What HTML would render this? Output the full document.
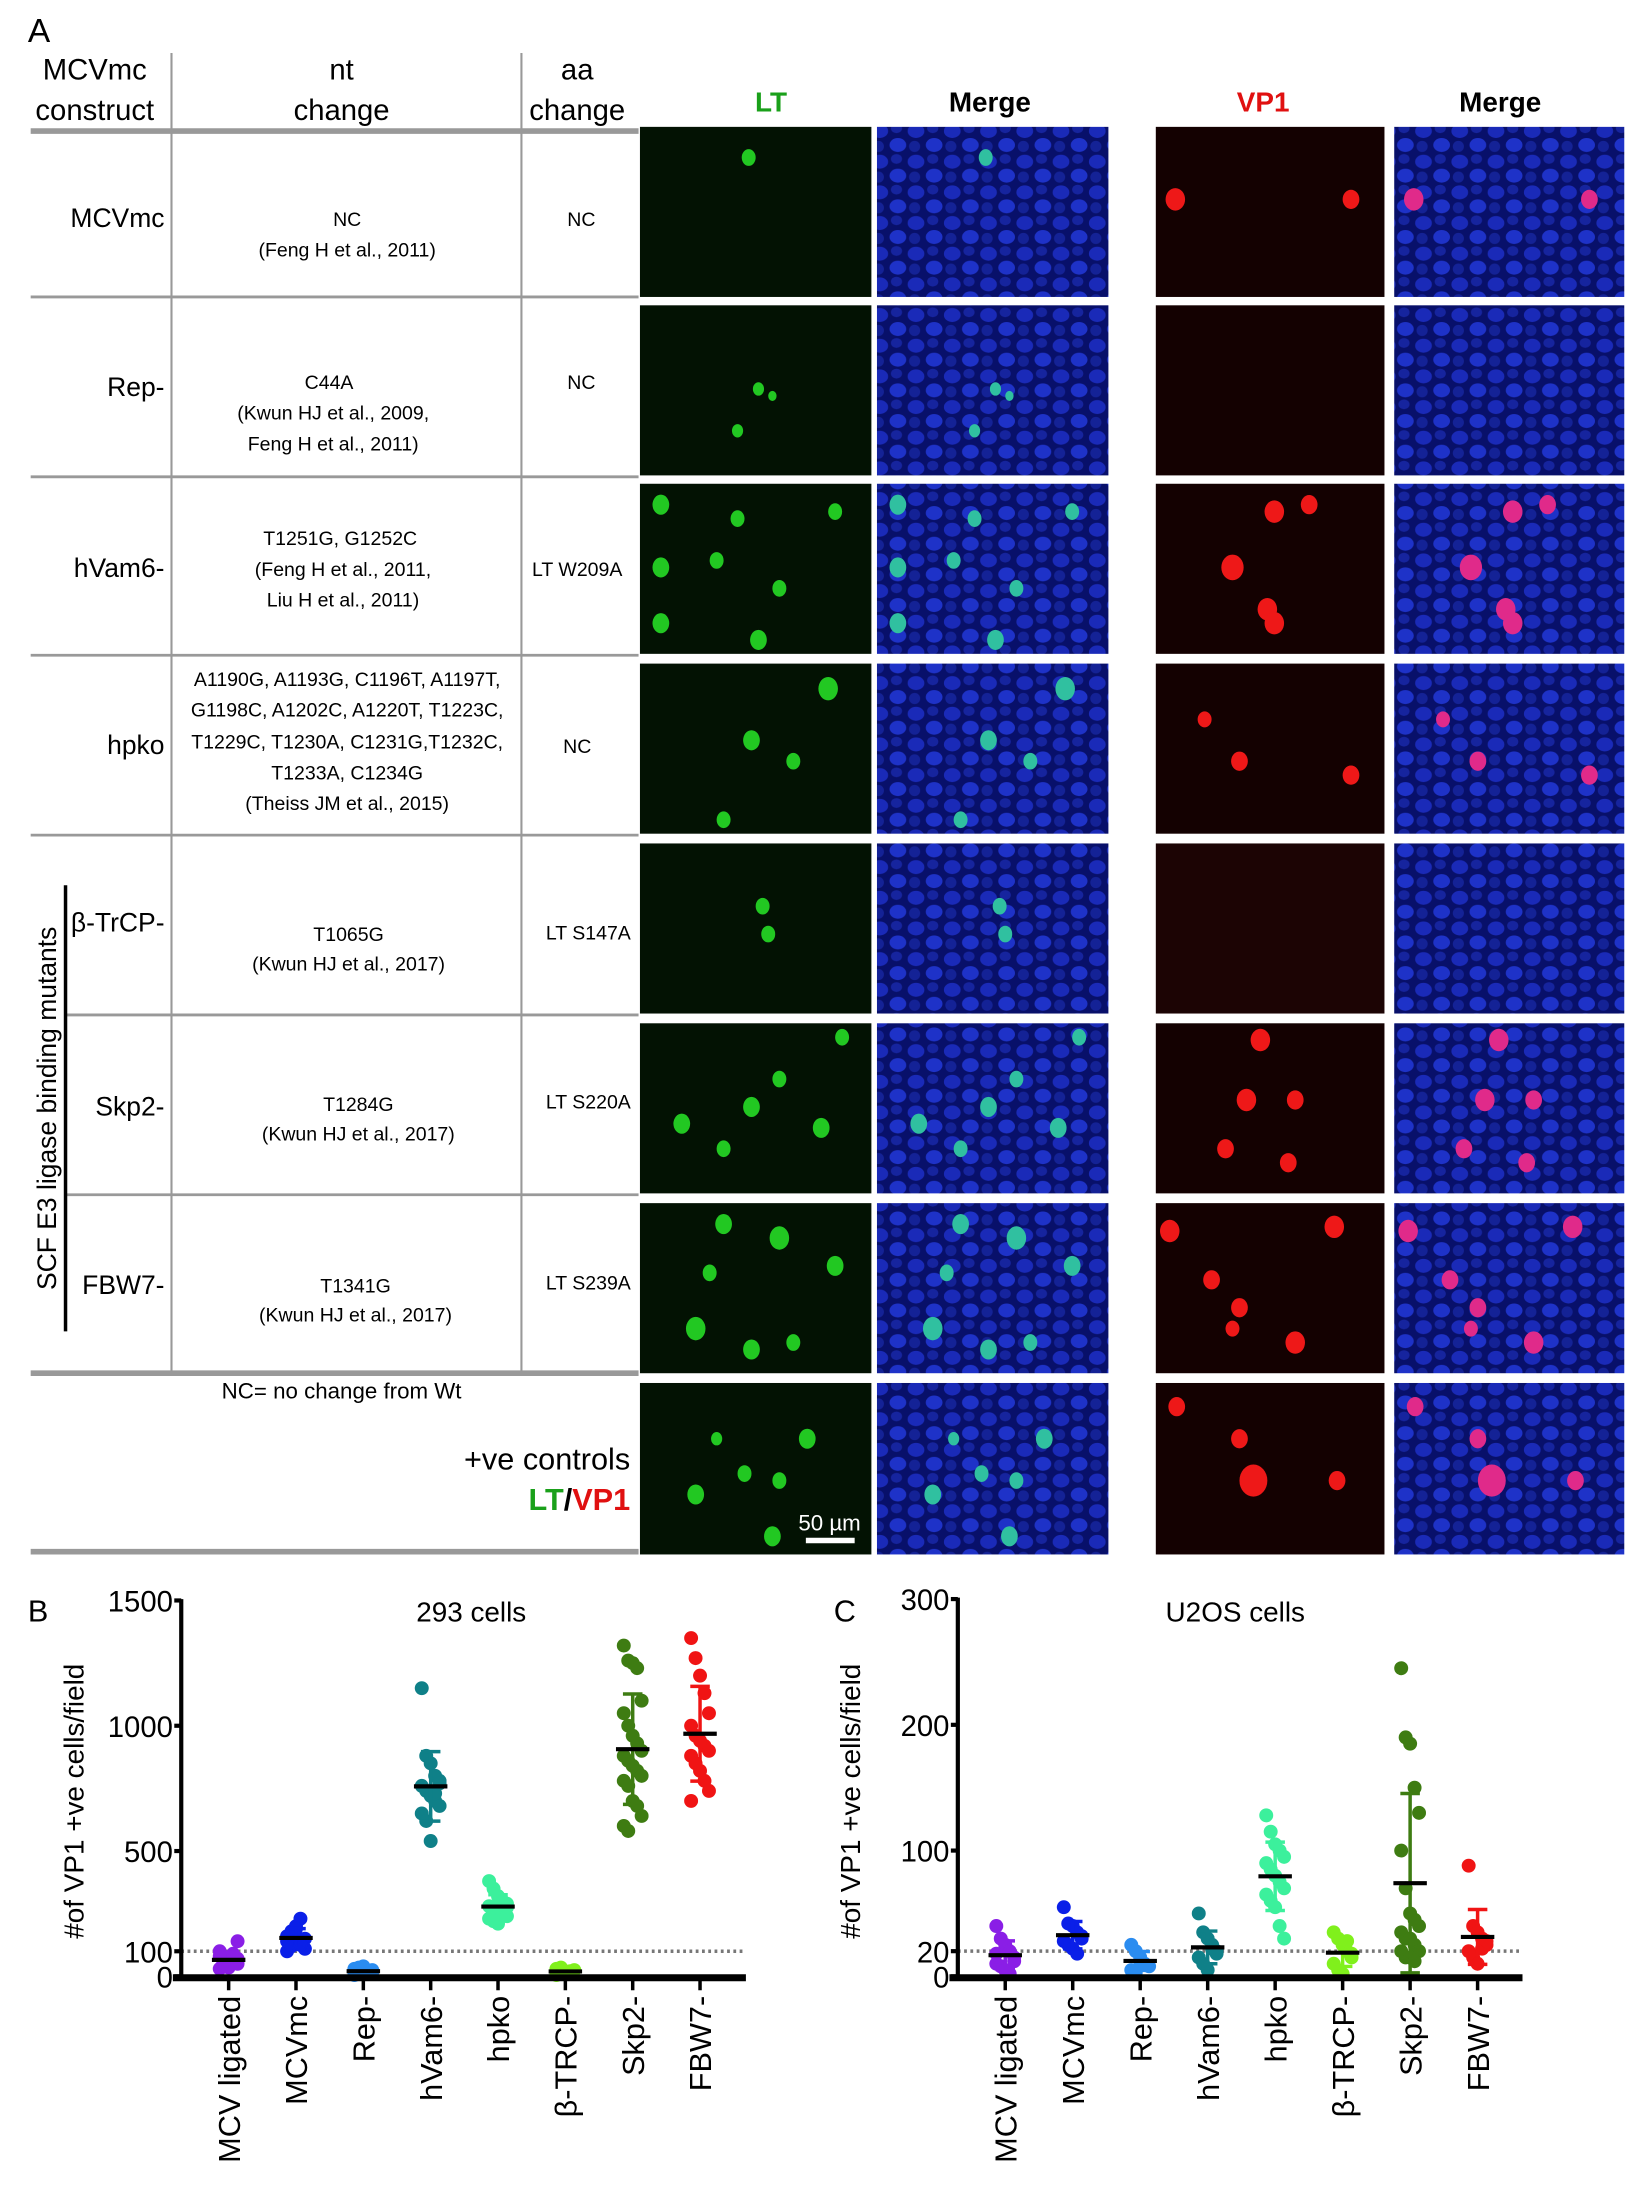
<!DOCTYPE html>
<html><head><meta charset="utf-8"><style>
html,body{margin:0;padding:0;background:#fff;}
svg{display:block;font-family:"Liberation Sans",sans-serif;}
</style></head><body>
<svg id="fig" width="1641" height="2186" viewBox="0 0 1177 1568" preserveAspectRatio="none" xmlns="http://www.w3.org/2000/svg">
<defs>
<pattern id="nuc" width="26" height="22" patternUnits="userSpaceOnUse">
<rect width="26" height="22" fill="#08106a"/>
<ellipse cx="7" cy="6" rx="6" ry="5" fill="#1a2ab8"/>
<ellipse cx="20" cy="16" rx="6" ry="5" fill="#1e32c8"/>
<ellipse cx="19" cy="4" rx="4" ry="3.5" fill="#16249e"/>
<ellipse cx="6" cy="17" rx="4" ry="4" fill="#142296"/>
</pattern>
</defs>
<g>
<text x="20" y="30" font-size="24">A</text>
<g font-size="21" text-anchor="middle">
<text x="68" y="57">MCVmc</text><text x="68" y="86">construct</text>
<text x="245" y="57">nt</text><text x="245" y="86">change</text>
<text x="414" y="57">aa</text><text x="414" y="86">change</text>
</g>
<g font-size="20" font-weight="bold" text-anchor="middle">
<text x="553" y="80" fill="#1aa01a">LT</text><text x="710" y="80">Merge</text>
<text x="906" y="80" fill="#e01010">VP1</text><text x="1076" y="80">Merge</text>
</g>
<g stroke="#999">
<line x1="123" y1="38" x2="123" y2="985" stroke-width="1.5"/>
<line x1="374" y1="38" x2="374" y2="985" stroke-width="1.5"/>
<line x1="22" y1="94" x2="458" y2="94" stroke-width="4"/>
<line x1="22" y1="213" x2="458" y2="213" stroke-width="2"/>
<line x1="22" y1="342" x2="458" y2="342" stroke-width="2"/>
<line x1="22" y1="470" x2="458" y2="470" stroke-width="2"/>
<line x1="22" y1="599" x2="458" y2="599" stroke-width="2"/>
<line x1="47" y1="728" x2="458" y2="728" stroke-width="2"/>
<line x1="47" y1="857" x2="458" y2="857" stroke-width="2"/>
<line x1="22" y1="985" x2="458" y2="985" stroke-width="4"/>
<line x1="22" y1="1113" x2="458" y2="1113" stroke-width="4"/>
</g>
<line x1="47" y1="635" x2="47" y2="955" stroke="#000" stroke-width="2.5"/>
<text transform="translate(40,795) rotate(-90)" font-size="19" text-anchor="middle">SCF E3 ligase binding mutants</text>
<g font-size="19" text-anchor="end">
<text x="118" y="163">MCVmc</text><text x="118" y="284">Rep-</text><text x="118" y="414">hVam6-</text>
<text x="118" y="541">hpko</text><text x="118" y="668">β-TrCP-</text><text x="118" y="800">Skp2-</text><text x="118" y="928">FBW7-</text>
</g>
<g font-size="14" text-anchor="middle">
<text x="249" y="162">NC</text><text x="249" y="184">(Feng H et al., 2011)</text>
<text x="236" y="279">C44A</text><text x="239" y="301">(Kwun HJ et al., 2009,</text><text x="239" y="323">Feng H et al., 2011)</text>
<text x="244" y="391">T1251G, G1252C</text><text x="246" y="413">(Feng H et al., 2011,</text><text x="246" y="435">Liu H et al., 2011)</text>
<text x="249" y="492">A1190G, A1193G, C1196T, A1197T,</text><text x="249" y="514">G1198C, A1202C, A1220T, T1223C,</text>
<text x="249" y="537">T1229C, T1230A, C1231G,T1232C,</text><text x="249" y="559">T1233A, C1234G</text><text x="249" y="581">(Theiss JM et al., 2015)</text>
<text x="250" y="675">T1065G</text><text x="250" y="696">(Kwun HJ et al., 2017)</text>
<text x="257" y="797">T1284G</text><text x="257" y="818">(Kwun HJ et al., 2017)</text>
<text x="255" y="927">T1341G</text><text x="255" y="948">(Kwun HJ et al., 2017)</text>
</g>
<g font-size="14" text-anchor="middle">
<text x="417" y="162">NC</text><text x="417" y="279">NC</text><text x="414" y="413">LT W209A</text>
<text x="414" y="540">NC</text><text x="422" y="674">LT S147A</text><text x="422" y="795">LT S220A</text><text x="422" y="925">LT S239A</text>
</g>
<text x="245" y="1003" font-size="16" text-anchor="middle">NC= no change from Wt</text>
<text x="452" y="1054" font-size="22" text-anchor="end">+ve controls</text>
<text x="452" y="1083" font-size="22" font-weight="bold" text-anchor="end"><tspan fill="#1aa01a">LT</tspan><tspan fill="#000">/</tspan><tspan fill="#e01010">VP1</tspan></text>
<g id="imgs"></g>
</g>
<g id="chartB"></g>
<g id="chartC"></g>
</svg>
<script>
const NS="http://www.w3.org/2000/svg";
const categories=["MCV ligated","MCVmc","Rep-","hVam6-","hpko","β-TRCP-","Skp2-","FBW7-"];
const categoriesC=["MCV  ligated","MCVmc","Rep-","hVam6-","hpko","β-TRCP-","Skp2-","FBW7-"];
const colors=["#8a1ee6","#0a1fe8","#2a8cf0","#0f8088","#3cf09c","#80f01c","#3e7c12","#f01414"];
const ticksB=[0,100,500,1000,1500];
const ticksC=[0,20,100,200,300];
const thresholdB=100, thresholdC=20;
const ligatedB=[30,40,50,60,70,80,55,45,90,140,100,65,35,75,50];
const mcvmcB=[100,120,130,140,150,160,180,200,230,110,140,170,190,125];
const repB=[5,10,15,20,25,30,35,40,10,15,20];
const hvam6B=[1150,880,850,800,780,760,740,720,700,680,650,620,540,730,770];
const hpkoB=[380,350,320,300,290,280,270,260,250,240,230,220,210,300,275];
const btrcpB=[5,10,15,20,25,30,35,15,20];
const skp2B=[1320,1260,1250,1230,1100,1050,1000,960,930,900,880,860,840,820,800,780,760,700,680,640,600,580];
const fbw7B=[1350,1270,1200,1130,1050,1000,960,940,920,900,880,850,820,780,740,700];
const ligatedC=[40,30,25,20,15,10,8,5,2,12,18];
const mcvmcC=[55,42,40,35,30,28,25,22,18,32];
const repC=[25,20,15,10,8,5,3,12];
const hvam6C=[50,35,30,25,20,15,10,5,22,18];
const hpkoC=[128,115,105,100,95,90,85,80,75,70,65,60,55,40,30];
const btrcpC=[35,30,25,20,15,10,5,2,28,18];
const skp2C=[245,190,185,150,130,100,70,50,45,40,35,30,30,25,20,20,15,15,12];
const fbw7C=[88,40,35,30,25,20,15,10,22,28];
const seriesB=[ligatedB,mcvmcB,repB,hvam6B,hpkoB,btrcpB,skp2B,fbw7B];
const seriesC=[ligatedC,mcvmcC,repC,hvam6C,hpkoC,btrcpC,skp2C,fbw7C];

function mk(parent,tag,attrs){const e=document.createElementNS(NS,tag);for(const k in attrs)e.setAttribute(k,attrs[k]);parent.appendChild(e);return e;}

function drawChart(gid,cfg){
  const g=document.getElementById(gid);
  const y=v=>cfg.y0-(v/cfg.max)*(cfg.y0-cfg.y1);
  const x=i=>cfg.xStart+i*cfg.step;
  const lab=mk(g,"text",{x:cfg.lx,y:1163,"font-size":22});lab.textContent=cfg.label;
  
  
  const t=mk(g,"text",{x:cfg.tx,y:1163,"font-size":20,"text-anchor":"middle"});t.textContent=cfg.title;
  
  
  const yt=mk(g,"text",{transform:`translate(${cfg.ax-70},1292) rotate(-90)`,"font-size":20,"text-anchor":"middle"});yt.textContent="#of VP1 +ve cells/field";
  
  
  const th=mk(g,"line",{x1:cfg.ax,x2:cfg.axEnd,y1:y(cfg.thr),y2:y(cfg.thr),stroke:"#777","stroke-width":2.5,"stroke-dasharray":"2,2.5"});
  
  
  const ya=mk(g,"line",{x1:cfg.ax,x2:cfg.ax,y1:y(cfg.max)-1,y2:y(0)+2,stroke:"#000","stroke-width":3});
  
  
  cfg.ticks.forEach(v=>{
    const tk=mk(g,"line",{x1:cfg.ax-5,x2:cfg.ax,y1:y(v),y2:y(v),stroke:"#000","stroke-width":3});
    
    
    const tl=mk(g,"text",{x:cfg.ax-6,y:y(v)+8,"font-size":21,"text-anchor":"end"});tl.textContent=v;
    
    
  });
  cfg.series.forEach((vals,i)=>{
    const cx=x(i);
    const xt=mk(g,"line",{x1:cx,x2:cx,y1:y(0),y2:y(0)+10,stroke:"#000","stroke-width":2.5});
    
    
    const xl=mk(g,"text",{transform:`translate(${cx+8},${y(0)+14}) rotate(-90)`,"font-size":22,"text-anchor":"end"});xl.textContent=cfg.cats[i];
    
    
    const n=vals.length, m=vals.reduce((a,b)=>a+b,0)/n;
    const sd=Math.sqrt(vals.reduce((a,b)=>a+(b-m)*(b-m),0)/(n-1));
    const grp=mk(g,"g",{});
    
    
    vals.forEach((v,j)=>{
      const off=((j%5)-2)*3.2;
      const p=mk(grp,"circle",{cx:cx+off,cy:y(v),r:5,fill:colors[i]});
      
      
    });
    const lo=Math.max(0,m-sd), hi=m+sd;
    const eb=mk(grp,"path",{d:`M${cx},${y(lo)}V${y(hi)}M${cx-7},${y(lo)}h14M${cx-7},${y(hi)}h14`,stroke:colors[i],"stroke-width":2.5,fill:"none"});
    
    
    const mb=mk(grp,"line",{x1:cx-12,x2:cx+12,y1:y(m),y2:y(m),stroke:"#000","stroke-width":3});
    
    
  });
  const xa=mk(g,"line",{x1:cfg.ax-6,x2:cfg.axEnd,y1:y(0)+1,y2:y(0)+1,stroke:"#000","stroke-width":5});
  
  
}
drawChart("chartB",{y0:1417.6,y1:1148,max:1500,ax:130,axEnd:535,xStart:164,step:48.3,ticks:ticksB,thr:thresholdB,series:seriesB,cats:categories,label:"B",lx:20,title:"293 cells",tx:338});
drawChart("chartC",{y0:1417.6,y1:1147,max:300,ax:687,axEnd:1092,xStart:721,step:48.4,ticks:ticksC,thr:thresholdC,series:seriesC,cats:categoriesC,label:"C",lx:598,title:"U2OS cells",tx:886});

// micrographs (decorative)
const rowsY=[91,219,347,476,605,734,863,992];
const colsX=[459,629,829,1000];
const blobs=[
 [[78,22,5],[0,0,0]],
 [[85,60,4],[70,90,4],[95,65,3]],
 [[15,15,6],[70,25,5],[15,60,6],[55,55,5],[140,20,5],[100,75,5],[15,100,6],[85,112,6]],
 [[135,18,7],[80,55,6],[110,70,5],[60,112,5]],
 [[88,45,5],[92,65,5]],
 [[145,10,5],[30,72,6],[80,60,6],[130,75,6],[100,40,5],[60,90,5]],
 [[60,15,6],[100,25,7],[140,45,6],[40,90,7],[80,105,6],[110,100,5],[50,50,5]],
 [[40,80,6],[75,65,5],[100,70,5],[120,40,6],[95,110,6],[55,40,4]]
];
const redBlobs=[
 [[14,52,7],[140,52,6]],
 [],
 [[85,20,7],[110,15,6],[55,60,8],[80,90,7],[50,140,11],[85,100,7]],
 [[35,40,5],[60,70,6],[140,80,6]],
 [],
 [[75,12,7],[65,55,7],[100,55,6],[50,90,6],[95,100,6]],
 [[10,20,7],[128,17,7],[40,55,6],[60,75,6],[100,100,7],[55,90,5]],
 [[15,17,6],[130,70,6],[70,70,10],[60,40,6]]
];
const gi=document.getElementById("imgs");
rowsY.forEach((ry,r)=>{
  const h=r===7?123:122;
  const p1=mk(gi,"rect",{x:colsX[0],y:ry,width:166,height:h,fill:"#031203"});
  
  
  const p2=mk(gi,"rect",{x:colsX[1],y:ry,width:166,height:h,fill:"url(#nuc)"});
  
  
  const p3=mk(gi,"rect",{x:colsX[2],y:ry,width:164,height:h,fill:r===4?"#1c0404":"#140101"});
  
  
  const p4=mk(gi,"rect",{x:colsX[3],y:ry,width:165,height:h,fill:"url(#nuc)"});
  
  
  blobs[r].forEach(b=>{ if(!b[2])return;
    mk(gi,"ellipse",{cx:colsX[0]+b[0],cy:ry+b[1],rx:b[2],ry:b[2]*1.2,fill:"#22c822"});
    mk(gi,"ellipse",{cx:colsX[1]+b[0],cy:ry+b[1],rx:b[2],ry:b[2]*1.2,fill:"#30c0a0"});
  });
  redBlobs[r].forEach(b=>{
    if(b[1]+b[2]>h)return;
    mk(gi,"ellipse",{cx:colsX[2]+b[0],cy:ry+b[1],rx:b[2],ry:b[2]*1.15,fill:"#ee1818"});
    mk(gi,"ellipse",{cx:colsX[3]+b[0],cy:ry+b[1],rx:b[2],ry:b[2]*1.15,fill:"#e02a8a"});
  });
});
const sb=mk(gi,"line",{x1:578,x2:613,y1:1105,y2:1105,stroke:"#fff","stroke-width":4});


const st=mk(gi,"text",{x:595,y:1098,"font-size":16,fill:"#fff","text-anchor":"middle"});st.textContent="50 µm";


</script>
</body></html>
